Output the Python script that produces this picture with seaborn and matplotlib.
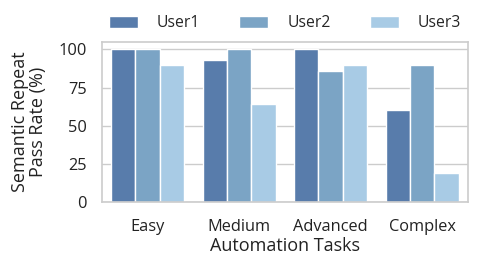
import matplotlib
matplotlib.use("Agg")
import matplotlib.pyplot as plt
import seaborn as sns
import pandas as pd

categories = ["Easy", "Medium", "Advanced", "Complex"]
users = ["User1", "User2", "User3"]
user1 = [100, 93, 100, 60]
user2 = [100, 100, 86, 90]
user3 = [90, 64, 90, 19]
colors = ["#587cab", "#7ba4c5", "#a8cbe5"]

rows = []
for u, vals in zip(users, [user1, user2, user3]):
    for c, v in zip(categories, vals):
        rows.append({"Task": c, "User": u, "Rate": v})
df = pd.DataFrame(rows)

sns.set_theme(style="whitegrid")
plt.rcParams['font.family'] = ['Open Sans', 'DejaVu Sans']

fig = plt.figure(figsize=(4.78, 2.69), dpi=100)
ax = fig.add_axes([0.213, 0.249, 0.766, 0.596])
sns.barplot(data=df, x="Task", y="Rate", hue="User", palette=colors,
            edgecolor="white", linewidth=1, ax=ax, saturation=1)
ax.set_ylim(0, 105)
ax.set_yticks([0, 25, 50, 75, 100])
ax.tick_params(axis="both", labelsize=11.8, colors="#222222")
ax.tick_params(axis="y", pad=5)
ax.tick_params(axis="x", pad=6)
ax.set_xlabel("Automation Tasks", fontsize=13, color="#222222", labelpad=2)
ax.set_ylabel("Semantic Repeat\nPass Rate (%)", fontsize=13, color="#222222",
              linespacing=1.0, labelpad=8)
for s in ax.spines.values():
    s.set_color("#cccccc")
    s.set_linewidth(1.2)
ax.legend(loc="lower center", bbox_to_anchor=(0.5, 1.0), ncol=3, frameon=False,
          fontsize=11.3, columnspacing=2.5, handlelength=1.85, handleheight=0.8,
          handletextpad=1.2, borderaxespad=0.25)
fig.savefig("out.png", dpi=100)
